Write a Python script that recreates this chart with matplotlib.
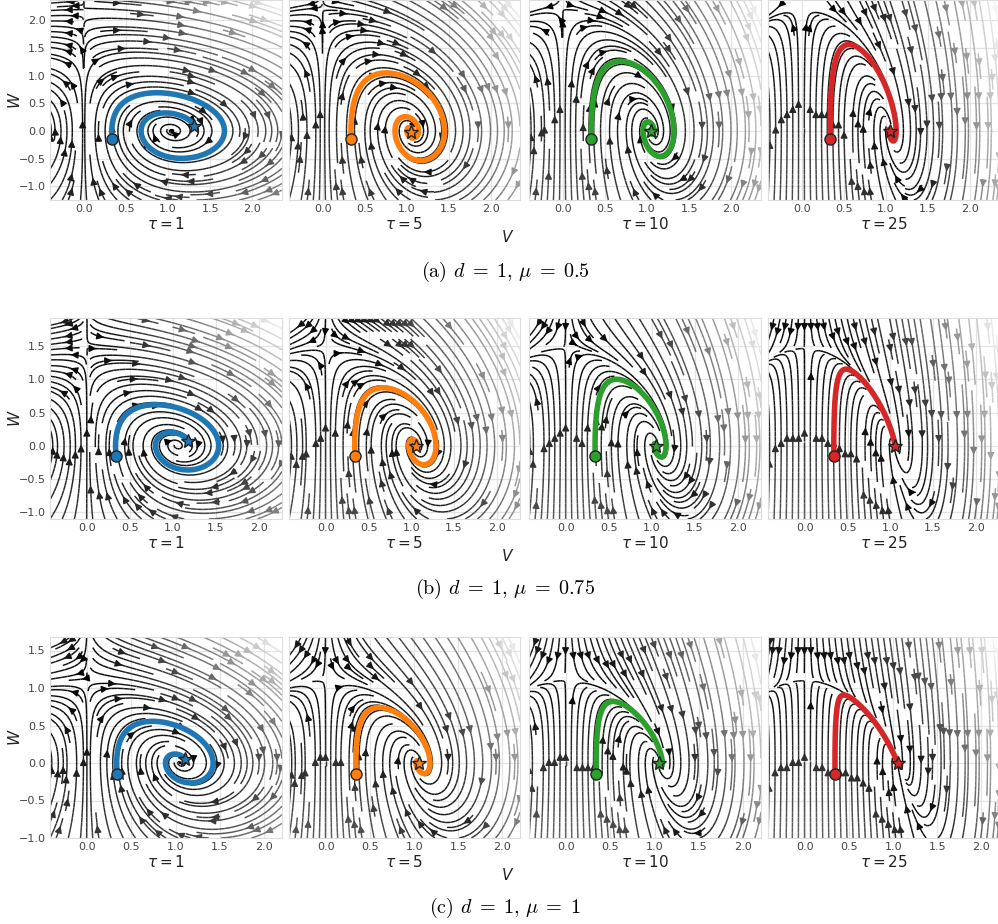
import numpy as np
import matplotlib.pyplot as plt

# parameters shown in the panel titles / captions
D = 1
MU_VALUES = [0.5, 0.75, 1.0]
MU_LABELS = ["0.5", "0.75", "1"]
ROW_TAGS = ["a", "b", "c"]
TAU_VALUES = [1, 5, 10, 25]
TRAJ_COLORS = ["#1f77b4", "#ff7f0e", "#2ca02c", "#d62728"]

# relaxation rate of w for each tau (model constant)
W_RATE = [0.5, 1.7, 3.3, 9.5]

# start point of the trajectories
V0, W0 = 0.34, -0.15
T_END = 9.8

# axis ranges per row
XLIMS = [(-0.40, 2.35), (-0.43, 2.27), (-0.42, 2.20)]
YLIMS = [(-1.25, 2.37), (-1.105, 1.925), (-1.0, 1.68)]
X_TICKS = [0.0, 0.5, 1.0, 1.5, 2.0]
Y_TICKS = [-1.0, -0.5, 0.0, 0.5, 1.0, 1.5, 2.0]

W_PX, H_PX = 998, 924
COL_X = [(50, 282), (289, 520), (529, 761), (768, 999)]
ROW_Y = [(0, 200), (318, 519), (637, 838)]
V_LABEL_Y = [237, 556, 875]
CAPTION_Y = [272, 589, 908]


def field(v, w, rate, mu):
    """Vector field of the (v, w) system."""
    dv = v * w
    dw = rate * (D + 0.1 - v ** 2 - mu * w)
    return dv, dw


def trajectory(rate, mu, t_end=T_END, n=6000):
    """RK4 integration from (V0, W0)."""
    dt = t_end / n
    v, w = V0, W0
    vs, ws = [v], [w]
    for _ in range(n):
        k1 = field(v, w, rate, mu)
        k2 = field(v + 0.5 * dt * k1[0], w + 0.5 * dt * k1[1], rate, mu)
        k3 = field(v + 0.5 * dt * k2[0], w + 0.5 * dt * k2[1], rate, mu)
        k4 = field(v + dt * k3[0], w + dt * k3[1], rate, mu)
        v += dt / 6 * (k1[0] + 2 * k2[0] + 2 * k3[0] + k4[0])
        w += dt / 6 * (k1[1] + 2 * k2[1] + 2 * k3[1] + k4[1])
        vs.append(v)
        ws.append(w)
    return np.array(vs), np.array(ws)


def px_axes(fig, x0, x1, y0, y1):
    return fig.add_axes([x0 / W_PX, 1 - y1 / H_PX, (x1 - x0) / W_PX, (y1 - y0) / H_PX])


fig = plt.figure(figsize=(W_PX / 100, H_PX / 100), dpi=100)

for r, mu in enumerate(MU_VALUES):
    xlim, ylim = XLIMS[r], YLIMS[r]
    gv = np.linspace(xlim[0], xlim[1], 80)
    gw = np.linspace(ylim[0], ylim[1], 80)
    V, Wg = np.meshgrid(gv, gw)
    for c, tau in enumerate(TAU_VALUES):
        ax = px_axes(fig, *COL_X[c], *ROW_Y[r])
        rate = W_RATE[c]
        dV, dW = field(V, Wg, rate, mu)
        speed = np.hypot(dV, dW)
        ax.streamplot(V, Wg, dV, dW, color=speed, cmap="gray", density=1.3,
                      linewidth=1.05, arrowsize=1.0)

        tv, tw = trajectory(rate, mu)
        col = TRAJ_COLORS[c]
        ax.plot(tv, tw, color=col, lw=4, solid_capstyle="round", zorder=4)
        ax.plot(V0, W0, "o", ms=8, mfc=col, mec="#222222", mew=1, zorder=5)
        ax.plot(tv[-1], tw[-1], "*", ms=10, mfc=col, mec="#222222", mew=1, zorder=5)

        ax.set_xticks(X_TICKS)
        ax.set_yticks(Y_TICKS)
        ax.set_xlim(xlim)
        ax.set_ylim(ylim)
        ax.grid(True, color="#e3e3e3", lw=0.9)
        ax.set_axisbelow(True)
        for sp in ax.spines.values():
            sp.set_color("#dddddd")
        ax.tick_params(length=0, labelsize=8, labelcolor="#444444", pad=3)
        ax.set_xlabel(rf"$\tau = {tau}$", fontsize=11, labelpad=1, color="#222222")
        if c == 0:
            ax.set_ylabel(r"$W$", fontsize=11, color="#222222", labelpad=-3)
        else:
            ax.set_yticklabels([])

    fig.text(508 / W_PX, 1 - V_LABEL_Y[r] / H_PX, r"$V$", ha="center", va="center",
             fontsize=11, color="#222222")
    fig.text(505 / W_PX, 1 - CAPTION_Y[r] / H_PX,
             rf"({ROW_TAGS[r]}) $d\;=\;{D},\,\mu\;=\;{MU_LABELS[r]}$",
             ha="center", va="center", fontsize=14.5, family="cmr10", math_fontfamily="cm")

fig.savefig("out.png", dpi=100)
